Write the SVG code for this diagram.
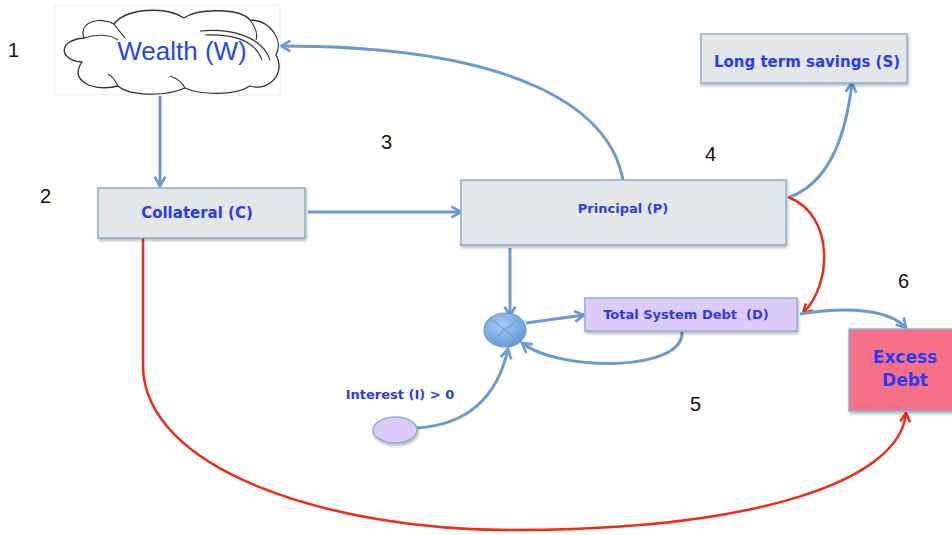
<svg xmlns="http://www.w3.org/2000/svg" width="952" height="535" viewBox="0 0 952 535">
<defs>
<style>
.box{fill:#e3e7e9;stroke:#8eaed0;stroke-width:1.5;filter:url(#sh)}
.lbl{font-family:"DejaVu Sans",Verdana,sans-serif;font-weight:bold;fill:#2b3cf0;text-anchor:middle}
.num{font-family:"Liberation Sans",Arial,sans-serif;font-size:20px;fill:#111}
.b{fill:none;stroke:#6a9ad0;stroke-width:3}
.r{fill:none;stroke:#f02a14;stroke-width:2.5}
</style>
<filter id="sh" x="-10%" y="-10%" width="130%" height="140%">
<feDropShadow dx="1" dy="2" stdDeviation="1.5" flood-color="#000" flood-opacity="0.3"/>
</filter>
<marker id="ab" viewBox="0 0 10 10" refX="8" refY="5" markerWidth="4.5" markerHeight="4.5" orient="auto" markerUnits="strokeWidth">
<path d="M1,1 L8,5 L1,9" fill="none" stroke="#6a9ad0" stroke-width="2"/>
</marker>
<marker id="ar" viewBox="0 0 10 10" refX="8" refY="5" markerWidth="5" markerHeight="5" orient="auto" markerUnits="strokeWidth">
<path d="M1,1 L8,5 L1,9" fill="none" stroke="#f02a14" stroke-width="2"/>
</marker>
<radialGradient id="cg" cx="0.4" cy="0.35" r="0.7">
<stop offset="0" stop-color="#a8cdf4"/>
<stop offset="1" stop-color="#5f98d8"/>
</radialGradient>
</defs>
<rect width="952" height="535" fill="#fff"/>

<g id="connectors">
<path class="b" d="M160,96 L160,186" marker-end="url(#ab)"/>
<path class="b" d="M308,212 L461,212" marker-end="url(#ab)"/>
<path class="b" d="M623,180 C610,110 520,46 281,46" marker-end="url(#ab)"/>
<path class="b" d="M790,197 C830,182 846,135 852,83" marker-end="url(#ab)"/>
<path class="r" d="M788,197 C835,215 832,285 803,313" marker-end="url(#ar)"/>
<path class="b" d="M510,248 L510,316" marker-end="url(#ab)"/>
<path class="b" d="M526,323 L584,315" marker-end="url(#ab)"/>
<path class="b" d="M682,332 C684,372 560,372 522,343" marker-end="url(#ab)"/>
<path class="b" d="M417,428 C478,424 500,385 508,349" marker-end="url(#ab)"/>
<path class="b" d="M800,314 C850,306 890,310 906,328" marker-end="url(#ab)"/>
<path class="r" d="M143,238 L143,365 C143,470 330,530 510,530 C760,530 900,480 906,413" marker-end="url(#ar)"/>
</g>

<g id="wealth">
<rect x="55" y="5" width="225" height="90" fill="#fff" stroke="#eee" stroke-width="1"/>
<path d="M82,62 C58,60 58,40 84,38 C78,22 100,16 114,24 C126,8 166,6 184,18 C198,8 240,8 250,20 C270,20 284,40 276,55 C286,72 270,92 250,86 C235,96 200,95 185,88 C165,97 130,96 118,86 C95,92 68,82 82,62 Z" fill="#fff" stroke="#333" stroke-width="1.3"/>
<path d="M84,38 C95,34 110,34 118,40 M114,24 C118,30 122,34 125,38 M250,20 C256,28 258,34 256,40 M200,31 C230,28 262,36 270,60 M205,35 C232,34 255,40 262,60 M185,88 C182,82 176,78 170,76 M118,86 C115,80 112,76 108,74" fill="none" stroke="#333" stroke-width="1.1"/>
<text x="182" y="60" font-family="Liberation Sans,Arial,sans-serif" font-size="26" fill="#2746f0" text-anchor="middle">Wealth (W)</text>
</g>

<g id="collateral">
<rect class="box" x="98" y="188" width="207" height="50"/>
<text class="lbl" x="197" y="218" font-size="15">Collateral (C)</text>
</g>

<g id="principal">
<rect class="box" x="461" y="180" width="325" height="65"/>
<text class="lbl" x="623" y="213" font-size="13">Principal (P)</text>
</g>

<g id="savings">
<rect class="box" x="701" y="34" width="206" height="49"/>
<text class="lbl" x="807" y="67" font-size="15">Long term savings (S)</text>
</g>

<g id="multiplier">
<ellipse cx="505" cy="330" rx="21" ry="17" fill="url(#cg)" stroke="#6a9ad0" stroke-width="1.2"/>
<path d="M490,318 L520,342 M520,318 L490,342" stroke="#7aa3d6" stroke-width="1.2"/>
</g>

<g id="total-debt">
<rect class="box" x="585" y="298" width="212" height="33" style="fill:#dccbfb"/>
<text class="lbl" x="686" y="319" font-size="13" xml:space="preserve">Total System Debt  (D)</text>
</g>

<g id="interest">
<ellipse cx="395" cy="430" rx="22" ry="13" fill="#dccbfb" stroke="#8eaed0" stroke-width="1.5" filter="url(#sh)"/>
<text class="lbl" x="400" y="399" font-size="13">Interest (I) &gt; 0</text>
</g>

<g id="excess-debt">
<rect class="box" x="849" y="329" width="105" height="82" style="fill:#f66f89"/>
<text class="lbl" x="905" y="363" font-size="17">Excess</text>
<text class="lbl" x="905" y="386" font-size="17">Debt</text>
</g>

<g id="numbers">
<text class="num" x="8" y="57">1</text>
<text class="num" x="40" y="203">2</text>
<text class="num" x="381" y="149">3</text>
<text class="num" x="705" y="161">4</text>
<text class="num" x="690" y="411">5</text>
<text class="num" x="898" y="288">6</text>
</g>
</svg>
